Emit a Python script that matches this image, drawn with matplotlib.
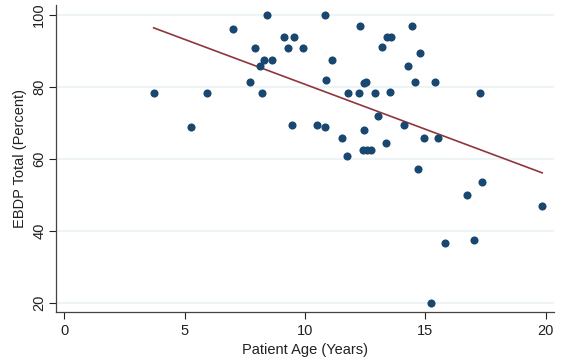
import matplotlib
matplotlib.use('Agg')
import numpy as np
import matplotlib.pyplot as plt

plt.rcParams['font.family'] = ['Liberation Sans', 'DejaVu Sans']

# Patient age (years) and EBDP total (percent)
age = [3.71, 5.27, 5.94, 6.99, 8.43, 7.93, 8.29, 8.63, 8.12, 7.71, 8.21,
       9.13, 9.54, 9.31, 9.90, 10.83, 11.12, 10.87, 12.30, 14.46, 13.42,
       13.56, 13.19, 14.80, 14.28, 14.57, 15.39, 12.47, 12.54, 11.79, 12.26,
       12.92, 13.55, 17.28, 9.47, 10.49, 10.82, 11.53, 11.73, 12.44, 12.42,
       12.59, 12.76, 13.05, 13.36, 14.12, 14.94, 15.53, 14.70, 17.35, 16.75,
       19.86, 15.82, 17.01, 15.23]
ebdp = [78.1, 68.7, 78.1, 96.1, 100.0, 90.6, 87.5, 87.5, 85.7, 81.2, 78.1,
        93.8, 93.8, 90.6, 90.6, 100.0, 87.5, 81.7, 96.8, 96.8, 93.8,
        93.8, 90.9, 89.4, 85.7, 81.2, 81.2, 80.9, 81.3, 78.1, 78.1,
        78.1, 78.5, 78.1, 69.3, 69.3, 68.7, 65.7, 60.7, 67.9, 62.5,
        62.5, 62.5, 71.8, 64.3, 69.3, 65.7, 65.7, 57.1, 53.6, 49.9,
        46.9, 36.5, 37.5, 20.0]

x_ticks = [0, 5, 10, 15, 20]
y_ticks = [20, 40, 60, 80, 100]

fig = plt.figure(figsize=(5.61, 3.64), dpi=100)
ax = fig.add_axes([0.0998, 0.1429, 0.8877, 0.843])

ax.scatter(age, ebdp, s=34, color='#1a476f', linewidths=0, zorder=3)

# linear fit over the observed age range
slope, icept = np.polyfit(age, ebdp, 1)
xs = np.array([min(age), max(age)])
ax.plot(xs, icept + slope * xs, color='#90353b', lw=1.2, zorder=2)

ax.set_xlim(-0.35, 20.35)
ax.set_ylim(17.5, 102.6)
ax.set_xticks(x_ticks)
ax.set_yticks(y_ticks)
ax.set_yticklabels([str(v) for v in y_ticks], rotation=90, va='center')
ax.tick_params(labelsize=10.5, colors='#222222', length=5, width=0.8)
ax.tick_params(axis='y', pad=2)

ax.grid(axis='y', color='#eaf2f3', lw=1.2, zorder=0)
ax.set_axisbelow(True)
for side in ['top', 'right']:
    ax.spines[side].set_visible(False)
for side in ['left', 'bottom']:
    ax.spines[side].set_color('#444444')
    ax.spines[side].set_linewidth(0.9)

ax.set_xlabel('Patient Age (Years)', fontsize=10.5, color='#222222')
ax.set_ylabel('EBDP Total (Percent)', fontsize=10.5, color='#222222')

plt.savefig('out.png', dpi=100)
